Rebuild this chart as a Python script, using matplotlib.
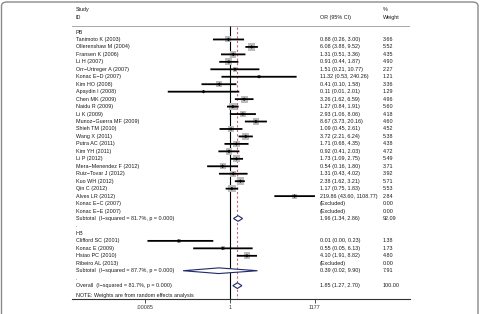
"""
Forest plot of odds ratios (PB / HB subgroups), random effects.
"""

import matplotlib.pyplot as plt
import matplotlib.transforms as mtransforms
from matplotlib.patches import FancyBboxPatch

# ---- data ----
pb_names = ["Tanimoto K (2003)", "Ollerenshaw M (2004)", "Fransen K (2006)", "Li H (2007)",
            "Orr\u2212Urtreger A (2007)", "Konac E\u2212D (2007)", "Kim HO (2008)", "Apaydin I (2008)",
            "Chen MK (2009)", "Naidu R (2009)", "Li K (2009)", "Munoz\u2212Guerra MF (2009)",
            "Shieh TM (2010)", "Wang X (2011)", "Putra AC (2011)", "Kim YH (2011)", "Li P (2012)",
            "Mera\u2212Menendez F (2012)", "Ruiz\u2212Tovar J (2012)", "Kuo WH (2012)", "Qin C (2012)",
            "Alves LR (2012)"]
pb_or = [0.88, 6.08, 1.31, 0.91, 1.51, 11.32, 0.41, 0.11, 3.26, 1.27, 2.93, 8.67,
         1.09, 3.72, 1.71, 0.92, 1.73, 0.54, 1.31, 2.38, 1.17, 219.86]
pb_lo = [0.26, 3.88, 0.51, 0.44, 0.21, 0.53, 0.10, 0.006, 1.62, 0.84, 1.06, 3.73,
         0.45, 2.21, 0.68, 0.41, 1.09, 0.16, 0.43, 1.62, 0.75, 43.60]
pb_hi = [3.00, 9.52, 3.36, 1.87, 10.77, 240.26, 1.58, 2.01, 6.59, 1.91, 8.06, 20.16,
         2.61, 6.24, 4.35, 2.03, 2.75, 1.80, 4.02, 3.21, 1.83, 1108.77]
pb_wt = [3.66, 5.52, 4.35, 4.90, 2.27, 1.21, 3.36, 1.29, 4.96, 5.60, 4.18, 4.60,
         4.52, 5.38, 4.38, 4.72, 5.49, 3.71, 3.92, 5.71, 5.53, 2.84]
pb_excluded = ["Konac E\u2212C (2007)", "Konac E\u2212E (2007)"]
pb_subtotal = [1.96, 1.34, 2.86, 92.09]
pb_i2 = 81.7

hb_names = ["Clifford SC (2001)", "Konac E (2009)", "Hsiao PC (2010)"]
hb_or = [0.014, 0.55, 4.10]
hb_lo = [0.0011, 0.05, 1.91]
hb_hi = [0.23, 6.13, 8.82]
hb_wt = [1.38, 1.73, 4.80]
hb_excluded = ["Ribeiro AL (2013)"]
hb_subtotal = [0.39, 0.02, 9.90, 7.91]
hb_i2 = 87.7

overall = [1.85, 1.27, 2.70, 100.00]
overall_i2 = 81.7

tick_vals = [0.00085, 1, 1177]
tick_labels = [".00085", "1", "1177"]

# ---- build the row table ----
rows = []  # (label, kind, est, lo, hi, weight)
rows.append(("PB", "head", None, None, None, None))
for n, e, l, h, w in zip(pb_names, pb_or, pb_lo, pb_hi, pb_wt):
    rows.append((n, "study", e, l, h, w))
for n in pb_excluded:
    rows.append((n, "excl", None, None, None, 0.0))
rows.append((f"Subtotal  (I\u2212squared = {pb_i2}%, p = 0.000)", "diamond", *pb_subtotal))
rows.append((".", "head", None, None, None, None))
rows.append(("HB", "head", None, None, None, None))
for n, e, l, h, w in zip(hb_names, hb_or, hb_lo, hb_hi, hb_wt):
    rows.append((n, "study", e, l, h, w))
for n in hb_excluded:
    rows.append((n, "excl", None, None, None, 0.0))
rows.append((f"Subtotal  (I\u2212squared = {hb_i2}%, p = 0.000)", "diamond", *hb_subtotal))
rows.append((".", "head", None, None, None, None))
rows.append((f"Overall  (I\u2212squared = {overall_i2}%, p = 0.000)", "diamond", *overall))

# ---- figure ----
W, H = 483, 314
plt.rcParams['font.family'] = ['Liberation Sans', 'DejaVu Sans']
fig = plt.figure(figsize=(W / 100, H / 100), dpi=100)
fs = 3.9
txt_col = "#1a1a1a"

# axes region in pixels: x 72..410, y top 0 .. axis line at 299
ax = fig.add_axes([72 / W, 1 - 299 / H, (410 - 72) / W, 299 / H])
ax.set_xscale("log")
px_per_dec = 27.6
ax.set_xlim(10 ** ((72 - 230) / px_per_dec), 10 ** ((410 - 230) / px_per_dec))
row0, row_h = 32, 7.46
ax.set_ylim((299 - row0) / row_h, (0 - row0) / row_h)

for s in ["top", "left", "right"]:
    ax.spines[s].set_visible(False)
ax.spines["bottom"].set_color("#333333")
ax.spines["bottom"].set_linewidth(0.8)
ax.set_yticks([])
ax.set_xticks(tick_vals)
ax.set_xticklabels(tick_labels)
ax.xaxis.set_minor_locator(plt.NullLocator())
ax.tick_params(axis="x", length=3, width=0.6, pad=1.5, labelsize=fs, colors="#333333")

header_y = (26 - row0) / row_h
bottom_y = ax.get_ylim()[0]
ax.axhline(header_y, color="#a8a8a8", lw=0.7)
ax.vlines(1, header_y, bottom_y, color="black", lw=0.8, zorder=2)
ax.vlines(overall[0], header_y + 0.2, bottom_y, color="#cc6677", lw=0.8,
          linestyles=(0, (2, 2)), zorder=2)

tr = mtransforms.blended_transform_factory(fig.transFigure, ax.transData)
x_lab, x_or, x_wt = 76 / W, 320 / W, 383 / W

ax.text(x_lab, -2.95, "Study", transform=tr, fontsize=fs, color=txt_col, va="center")
ax.text(x_lab, -1.95, "ID", transform=tr, fontsize=fs, color=txt_col, va="center")
ax.text(x_or, -1.95, "OR (95% CI)", transform=tr, fontsize=fs, color=txt_col, va="center")
ax.text(x_wt, -2.95, "%", transform=tr, fontsize=fs, color=txt_col, va="center")
ax.text(x_wt, -1.95, "Weight", transform=tr, fontsize=fs, color=txt_col, va="center")

st_y, st_est, st_lo, st_hi, st_side = [], [], [], [], []
for i, (label, kind, est, lo, hi, wt) in enumerate(rows):
    ax.text(x_lab, i, label, transform=tr, fontsize=fs, color=txt_col, va="center")
    if kind == "study":
        st_y.append(i)
        st_est.append(est)
        st_lo.append(lo)
        st_hi.append(hi)
        st_side.append(7.3 * (wt / 5.52) ** 0.5 * 0.72)
    if kind == "diamond":
        ax.fill([lo, est, hi, est, lo], [i, i - 0.38, i, i + 0.38, i],
                facecolor="white", edgecolor="#1f2a6b", lw=0.8, zorder=5)
    if kind in ("study", "diamond"):
        ax.text(x_or, i, f"{est:.2f} ({lo:.2f}, {hi:.2f})", transform=tr,
                fontsize=fs, color=txt_col, va="center")
        ax.text(x_wt, i, f"{wt:.2f}", transform=tr, fontsize=fs, color=txt_col, va="center")
    if kind == "excl":
        ax.text(x_or, i, "(Excluded)", transform=tr, fontsize=fs, color=txt_col, va="center")
        ax.text(x_wt, i, f"{wt:.2f}", transform=tr, fontsize=fs, color=txt_col, va="center")

# weight boxes, CI lines, point estimates
ax.scatter(st_est, st_y, s=[v ** 2 for v in st_side], marker="s", color="#bdbdbd",
           edgecolors="none", zorder=3)
for y, lo, hi in zip(st_y, st_lo, st_hi):
    ax.plot([lo, hi], [y, y], color="black", lw=1.3, zorder=4, snap=False)
ax.scatter(st_est, st_y, s=3.2, marker="D", color="black", edgecolors="none", zorder=5)

ax.text(x_lab, len(rows) + 0.35, "NOTE: Weights are from random effects analysis",
        transform=tr, fontsize=fs, color=txt_col, va="center")

# outer frame of the source figure
frame = FancyBboxPatch((1.5 / W, -0.1), (478 - 1.5) / W, 1.1 - 2 / H,
                       boxstyle="round,pad=0,rounding_size=0.012",
                       transform=fig.transFigure, fill=False, edgecolor="#8a8a8a",
                       lw=1.0, clip_on=False)
fig.patches.append(frame)

fig.savefig("out.png", dpi=100, facecolor="white")
